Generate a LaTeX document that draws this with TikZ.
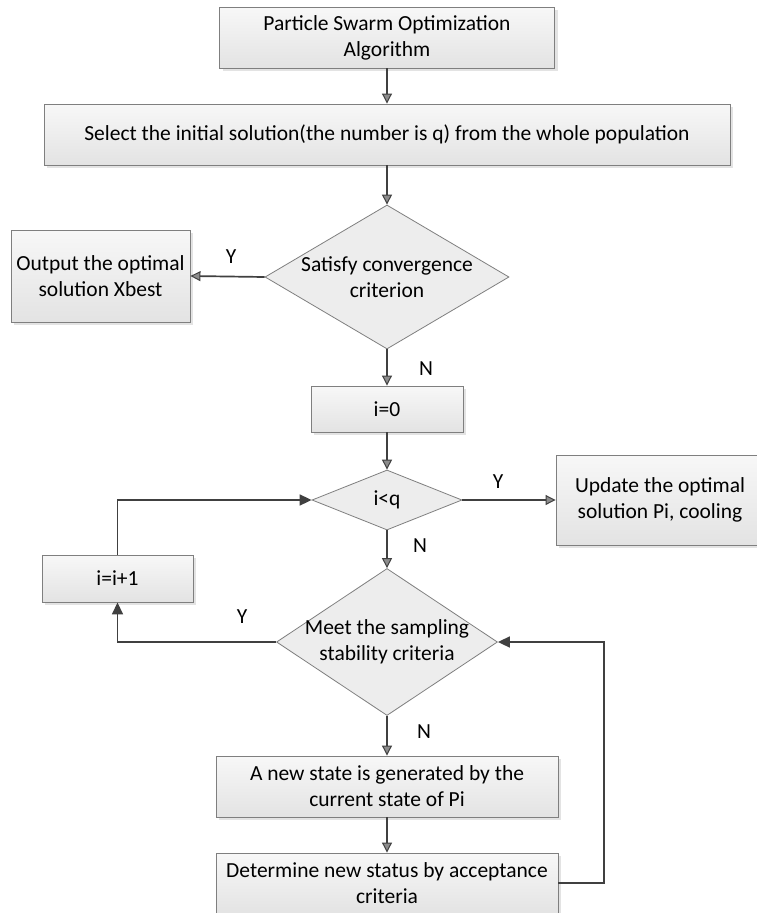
\documentclass[tikz,border=0pt]{standalone}
\usepackage{fontspec}
\setmainfont{Carlito}
\usetikzlibrary{shapes.geometric,arrows.meta,shadows}
\definecolor{linec}{HTML}{404040}
\definecolor{borderc}{HTML}{7F7F7F}
\definecolor{headc}{HTML}{8C8C8C}
\tikzset{
  base/.style={font=\fontsize{21.5}{26}\selectfont, text=black},
  procbox/.style={base, draw=borderc, line width=0.9pt, rectangle, inner sep=0pt, align=center,
    top color=white!97!black, bottom color=white!89!black,
    drop shadow={shadow xshift=3pt, shadow yshift=-3pt, fill=black!18, opacity=0.6}},
  decbox/.style={draw=borderc, line width=0.8pt, diamond, inner sep=0pt, fill=white!93!black},
  dlabel/.style={base, align=center},
  conn/.style={draw=linec, line width=1.7pt},
  garrow/.style={conn, -{Triangle[length=10pt,width=10pt,fill=headc,line width=1pt]}},
  sarrow/.style={conn, -{Triangle[length=12pt,width=11pt]}},
  yn/.style={base}
}
\begin{document}
\begin{tikzpicture}[x=1pt,y=-1pt]
\clip (0,0) rectangle (757,913);
\fill[white] (0,0) rectangle (757,913);

\node[procbox, minimum width=335pt, minimum height=61pt] (top) at (387,37.5) {Particle Swarm Optimization\\Algorithm};
\node[procbox, minimum width=686pt, minimum height=61pt] (sel) at (387,134.5) {Select the initial solution(the number is q) from the whole population};
\node[decbox, minimum width=244pt, minimum height=144pt, label={[dlabel]center:Satisfy convergence\\criterion}] (conv) at (387,277) {};
\node[procbox, minimum width=179pt, minimum height=92pt] (out) at (100.5,276) {Output the optimal\\solution Xbest};
\node[procbox, minimum width=152pt, minimum height=46pt] (i0) at (387,409) {i=0};
\node[decbox, minimum width=150pt, minimum height=60pt, label={[dlabel]center:i<q}] (iq) at (387,500) {};
\node[procbox, minimum width=208pt, minimum height=90pt] (upd) at (660,500) {Update the optimal\\solution Pi, cooling};
\node[procbox, minimum width=151pt, minimum height=47pt] (inc) at (117.5,578.5) {i=i+1};
\node[decbox, minimum width=221pt, minimum height=147pt, label={[dlabel]center:Meet the sampling\\stability criteria}] (stab) at (387,642) {};
\node[procbox, minimum width=342pt, minimum height=61pt] (new) at (387,786.5) {A new state is generated by the\\current state of Pi};
\node[procbox, minimum width=342pt, minimum height=61pt] (det) at (387,883.5) {Determine new status by acceptance\\criteria};

\coordinate (r1) at (604,883);
\coordinate (r2) at (604,642);

\draw[garrow] (top.south) -- (sel.north);
\draw[garrow] (sel.south) -- (conv.north);
\draw[garrow] (conv.west) -- (out.east);
\draw[garrow] (conv.south) -- (i0.north);
\draw[garrow] (i0.south) -- (iq.north);
\draw[garrow] (iq.east) -- (upd.west);
\draw[garrow] (iq.south) -- (stab.north);
\draw[sarrow] (stab.west) -| (inc.south);
\draw[sarrow] (inc.north) |- (iq.west);
\draw[garrow] (stab.south) -- (new.north);
\draw[garrow] (new.south) -- (det.north);
\draw[sarrow] (det.east |- r1) -- (r1) -- (r2) -- (stab.east);

\node[yn] (y1) at (231,257) {Y};
\node[yn] (n1) at (426,369) {N};
\node[yn] (y2) at (498,482) {Y};
\node[yn] (n2) at (420,546) {N};
\node[yn] (y3) at (242,617) {Y};
\node[yn] (n3) at (424,732) {N};
\end{tikzpicture}
\end{document}
